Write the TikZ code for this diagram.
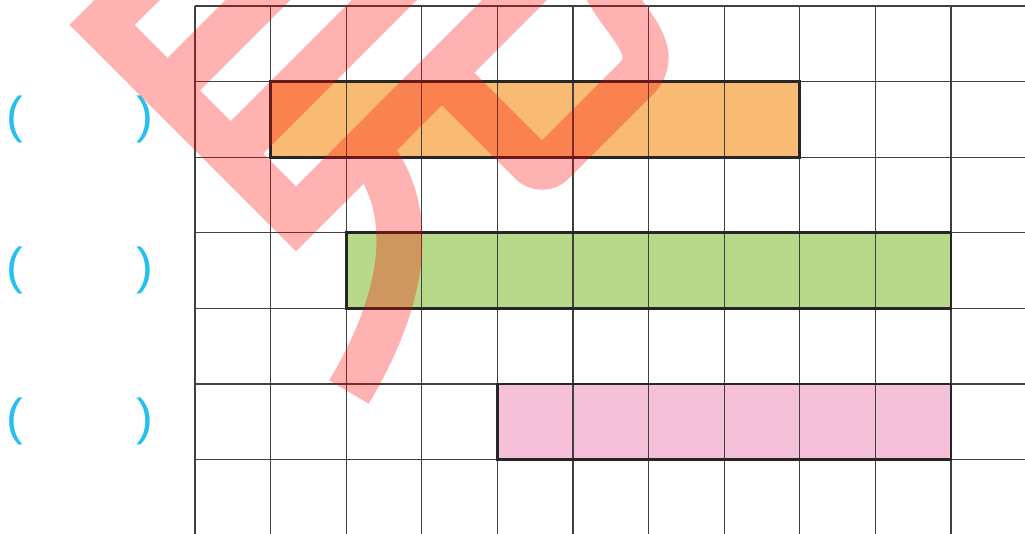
\documentclass[tikz,border=0pt]{standalone}
\usepackage{tikz}
\usepackage{fontspec}
\newfontfamily\blankfont{Liberation Sans}
\definecolor{barorange}{RGB}{249,187,116}
\definecolor{bargreen}{RGB}{185,217,138}
\definecolor{barpink}{RGB}{245,193,217}
\definecolor{blankblue}{RGB}{38,192,240}
\tikzset{
  blank/.style={text=blankblue,font=\blankfont\fontsize{19}{21}\selectfont,inner sep=0pt},
  bar/.style={draw=black!85,line width=1pt},
  stamp/.style={red,line width=0.608cm}
}

\begin{document}
\begin{tikzpicture}
\useasboundingbox (-2.579,0.079) rectangle (10.979,-6.984);
\fill[barorange] (1,-1) rectangle (8,-2);
\fill[bargreen] (2,-3) rectangle (10,-4);
\fill[barpink] (4,-5) rectangle (10,-6);
\draw[black!75,line width=0.5pt] (0,0) grid (10.979,-6.984);
\draw[bar] (1,-1) rectangle (8,-2);
\draw[bar] (2,-3) rectangle (10,-4);
\draw[bar] (4,-5) rectangle (10,-6);
\node[blank] (blank1) at (-1.52,-1.5) {(\hspace{1.5cm})};
\node[blank] (blank2) at (-1.52,-3.5) {(\hspace{1.5cm})};
\node[blank] (blank3) at (-1.52,-5.5) {(\hspace{1.5cm})};
\begin{scope}[transparency group,opacity=0.3]
\clip (-2.579,0.079) rectangle (10.979,-6.984);
\draw[stamp] (-0.496,0.476) -- (-1.230,-0.251) -- (1.336,-2.817) -- (4.623,0.476);
\draw[stamp] (-0.364,-1.118) -- (1.230,0.476);
\draw[stamp] (0.473,-1.954) -- (2.903,0.476);
\draw[stamp] (3.264,-0.883) [rounded corners=0.2cm] -- (4.590,-2.209) -- (5.688,-1.111) .. controls (6.217,-0.582) and (5.648,-0.198) .. (5.423,0.278);
\draw[stamp] (2.288,-1.905) .. controls (2.910,-2.632) and (2.844,-3.757) .. (2.037,-5.106);
\end{scope}
\end{tikzpicture}
\end{document}
